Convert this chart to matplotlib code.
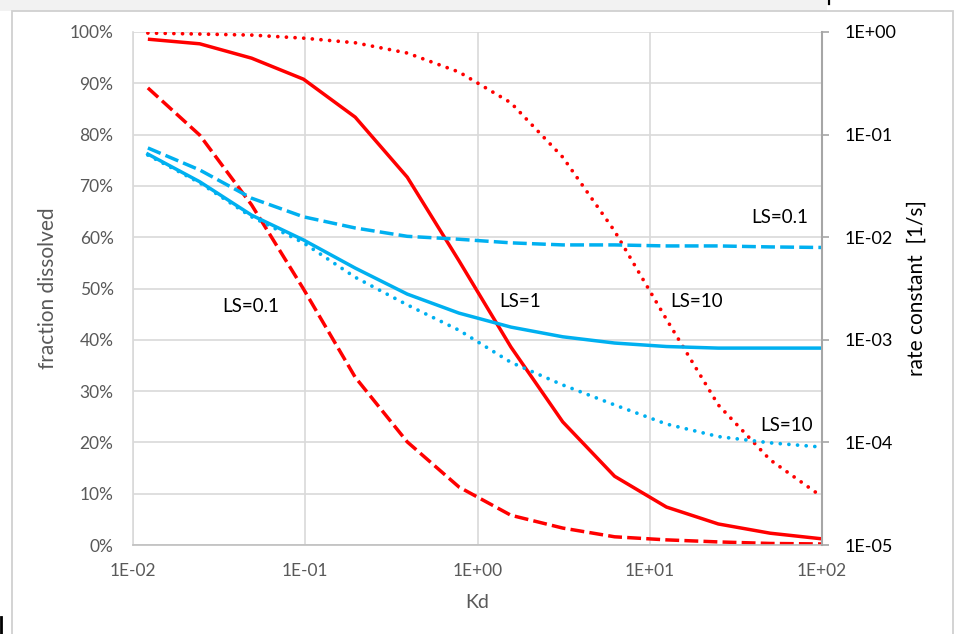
import matplotlib
matplotlib.use("Agg")
import matplotlib.pyplot as plt
from matplotlib.patches import Rectangle
from matplotlib.lines import Line2D
from matplotlib.ticker import FixedLocator, FixedFormatter

plt.rcParams['font.family'] = ['Lato', 'DejaVu Sans']

# ---- data ----
kd = [0.0122, 0.0244, 0.0488, 0.0977, 0.195, 0.391, 0.781,
      1.5625, 3.125, 6.25, 12.5, 25, 50, 100]

# fraction dissolved (%), left axis
frac_ls01 = [89.1, 79.9, 66.3, 49.9, 32.7, 20.1, 11.3, 5.8, 3.3, 1.6, 1.0, 0.6, 0.3, 0.2]
frac_ls1 = [98.6, 97.7, 94.9, 90.8, 83.4, 71.7, 55.4, 38.6, 24.0, 13.4, 7.4, 4.1, 2.3, 1.2]
frac_ls10 = [99.8, 99.6, 99.4, 98.8, 97.9, 95.9, 92.2, 86.2, 75.6, 61.2, 44.0, 27.3, 16.6, 9.4]

# rate constant (1/s), right axis
rate_ls01 = [7.41e-2, 4.52e-2, 2.40e-2, 1.58e-2, 1.23e-2, 1.02e-2, 9.55e-3,
             8.81e-3, 8.41e-3, 8.41e-3, 8.22e-3, 8.22e-3, 8.04e-3, 7.94e-3]
rate_ls1 = [6.46e-2, 3.47e-2, 1.64e-2, 9.4e-3, 5.0e-3, 2.79e-3, 1.82e-3,
            1.33e-3, 1.07e-3, 9.3e-4, 8.6e-4, 8.3e-4, 8.3e-4, 8.3e-4]
rate_ls10 = [6.31e-2, 3.39e-2, 1.58e-2, 8.81e-3, 4.07e-3, 2.19e-3, 1.24e-3,
             6.03e-4, 3.63e-4, 2.32e-4, 1.51e-4, 1.14e-4, 9.9e-5, 9.0e-5]

x_ticks = [0.01, 0.1, 1, 10, 100]
x_labels = ["1E-02", "1E-01", "1E+00", "1E+01", "1E+02"]
y_ticks = list(range(0, 101, 10))
y_labels = [f"{v}%" for v in y_ticks]
r_ticks = [1e-5, 1e-4, 1e-3, 1e-2, 1e-1, 1]
r_labels = ["1E-05", "1E-04", "1E-03", "1E-02", "1E-01", "1E+00"]

RED = "#FF0000"
BLUE = "#00B0F0"
GRID = "#D9D9D9"
TXT = "#595959"

W, H = 957, 634
fig = plt.figure(figsize=(W / 100, H / 100), dpi=100)
fig.patch.set_facecolor("white")

# top strip and outer frame
fig.add_artist(Rectangle((0, 1 - 10.5 / H), 827 / W, 10.5 / H, transform=fig.transFigure,
                         facecolor="#F2F2F2", edgecolor="none", zorder=0))
fig.add_artist(Rectangle((12 / W, -0.01), (953 - 12) / W, 1.01 - 10.5 / H, transform=fig.transFigure,
                         facecolor="white", edgecolor="#D0D0D0", lw=1.3, zorder=0))
fig.add_artist(Line2D([829 / W, 829 / W], [1, 1 - 4 / H], transform=fig.transFigure,
                      color="black", lw=1.6))
fig.add_artist(Line2D([1.2 / W, 1.2 / W], [0, 17 / H], transform=fig.transFigure,
                      color="black", lw=2.0))

L, R, T, B = 133, 822, 32, 545
ax = fig.add_axes([L / W, 1 - B / H, (R - L) / W, (B - T) / H])
ax.set_facecolor("none")
ax.set_xscale("log")
ax.set_xlim(0.01, 100)
ax.set_ylim(0, 100)

ax.xaxis.set_major_locator(FixedLocator(x_ticks))
ax.xaxis.set_major_formatter(FixedFormatter(x_labels))
ax.xaxis.set_minor_locator(FixedLocator([]))
ax.yaxis.set_major_locator(FixedLocator(y_ticks))
ax.yaxis.set_major_formatter(FixedFormatter(y_labels))
ax.tick_params(axis="both", length=0, labelsize=12.5, labelcolor=TXT)
ax.tick_params(axis="y", pad=14)
ax.tick_params(axis="x", pad=13)
ax.grid(True, color=GRID, lw=1.2)
ax.set_axisbelow(True)
for s in ["top", "right"]:
    ax.spines[s].set_visible(False)
ax.spines["left"].set_color(GRID)
ax.spines["left"].set_linewidth(1.2)
ax.spines["bottom"].set_color("#BFBFBF")
ax.spines["bottom"].set_linewidth(1.2)

lw = 2.5
dash = (0, (4, 1.5))
dot = (0, (0.01, 2.3))
ax.plot(kd, frac_ls01, color=RED, lw=lw, ls=dash)
ax.plot(kd, frac_ls1, color=RED, lw=lw, solid_capstyle="butt")
ax.plot(kd, frac_ls10, color=RED, lw=lw + 0.2, ls=dot, dash_capstyle="round")

ax.set_xlabel("Kd", fontsize=14, color=TXT)
ax.xaxis.set_label_coords(0.5, (B - 603) / (B - T))
ax.xaxis.label.set_verticalalignment("center")
ax.set_ylabel("fraction dissolved", fontsize=15, color=TXT)
ax.yaxis.set_label_coords((48 - L) / (R - L), 0.5)
ax.yaxis.label.set_verticalalignment("center")

ax2 = ax.twinx()
ax2.set_yscale("log")
ax2.set_ylim(1e-5, 1)
ax2.yaxis.set_major_locator(FixedLocator(r_ticks))
ax2.yaxis.set_major_formatter(FixedFormatter(r_labels))
ax2.yaxis.set_minor_locator(FixedLocator([]))
ax2.tick_params(axis="y", length=5, width=1.2, color="#A6A6A6", direction="out",
                labelsize=13, labelcolor="black", pad=11)
for s in ["top", "left", "bottom"]:
    ax2.spines[s].set_visible(False)
ax2.spines["right"].set_color("#A6A6A6")
ax2.spines["right"].set_linewidth(1.5)

ax2.plot(kd, rate_ls01, color=BLUE, lw=lw, ls=dash)
ax2.plot(kd, rate_ls1, color=BLUE, lw=lw)
ax2.plot(kd, rate_ls10, color=BLUE, lw=lw + 0.2, ls=dot, dash_capstyle="round")

ax2.set_ylabel("rate constant  [1/s]", fontsize=15, color="black", rotation=90)
ax2.yaxis.set_label_coords((917 - L) / (R - L), 0.5)
ax2.yaxis.label.set_verticalalignment("center")

# curve labels (data coordinates)
fs = 13.5
ax.text(0.048, 46.5, "LS=0.1", fontsize=fs, ha="center", va="center", color="black")
ax.text(1.77, 47.5, "LS=1", fontsize=fs, ha="center", va="center", color="black")
ax.text(18.8, 47.5, "LS=10", fontsize=fs, ha="center", va="center", color="black")
ax.text(57, 63.8, "LS=0.1", fontsize=fs, ha="center", va="center", color="black")
ax.text(62, 23.3, "LS=10", fontsize=fs, ha="center", va="center", color="black")

fig.savefig("out.png", dpi=100)
